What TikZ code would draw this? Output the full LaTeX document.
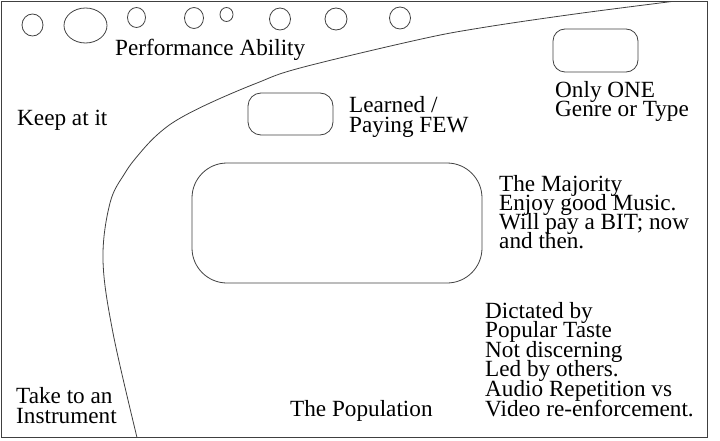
\documentclass[tikz,border=0pt]{standalone}
\usepackage{fontspec}
\setmainfont{Liberation Serif}
\newcommand\mytightlines{\lineskiplimit=-100pt\relax\lineskip=0pt\relax}
\tikzset{
  ln/.style={draw=black!75, line width=0.8pt},
  lbl/.style={anchor=base west, inner sep=0pt, align=left, font=\fontsize{23.2}{19.6}\selectfont\mytightlines, text=black},
  lblb/.style={lbl, font=\fontsize{23.2}{19}\selectfont\mytightlines}
}
\begin{document}
\begin{tikzpicture}[x=1pt,y=-1pt]
\useasboundingbox (0,0) rectangle (720,441);
\draw[ln] (1.5,1.5) rectangle (707,437.5);
% circles
\draw[ln] (32.5,25) ellipse (10.5 and 11);
\draw[ln] (85.5,25.5) ellipse (21.5 and 17.5);
\draw[ln] (136.5,17.5) ellipse (9 and 10);
\draw[ln] (194,18) ellipse (9.5 and 10.5);
\draw[ln] (226.5,14.5) ellipse (6.5 and 7);
\draw[ln] (280,19) ellipse (10.5 and 11);
\draw[ln] (336,19) ellipse (11 and 11);
\draw[ln] (400,18) ellipse (10.5 and 11);
% curve
\draw[ln] plot[smooth, tension=0.6] coordinates {(672,1.5) (575,14) (480,28) (417,40) (300,68) (257,83) (210,103) (177,120) (157,135) (140,153) (125,173) (110,203) (103,260) (113,333) (137,437.5)};
% rounded boxes
\draw[ln, rounded corners=12pt] (553,29) rectangle (638,72);
\draw[ln, rounded corners=13pt] (248,93) rectangle (333,135);
\draw[ln, rounded corners=35pt] (192,163) rectangle (482,283);
% texts (anchor = baseline of last line)
\node[lbl] (perf) at (115,56) {Performance Ability};
\node[lbl] (keep) at (17,125) {Keep at it};
\node[lbl] (learn) at (349,132) {Learned /\\Paying FEW};
\node[lbl] (only) at (555,117) {Only ONE\\Genre or Type};
\node[lblb] (maj) at (499,248) {The Majority\\Enjoy good Music.\\Will pay a BIT; now\\and then.};
\node[lbl] (dict) at (485,416) {Dictated by\\Popular Taste\\Not discerning\\Led by others.\\Audio Repetition vs\\Video re-enforcement.};
\node[lbl] (take) at (16,423) {Take to an\\Instrument};
\node[lbl] (pop) at (290,416) {The Population};
\end{tikzpicture}
\end{document}
